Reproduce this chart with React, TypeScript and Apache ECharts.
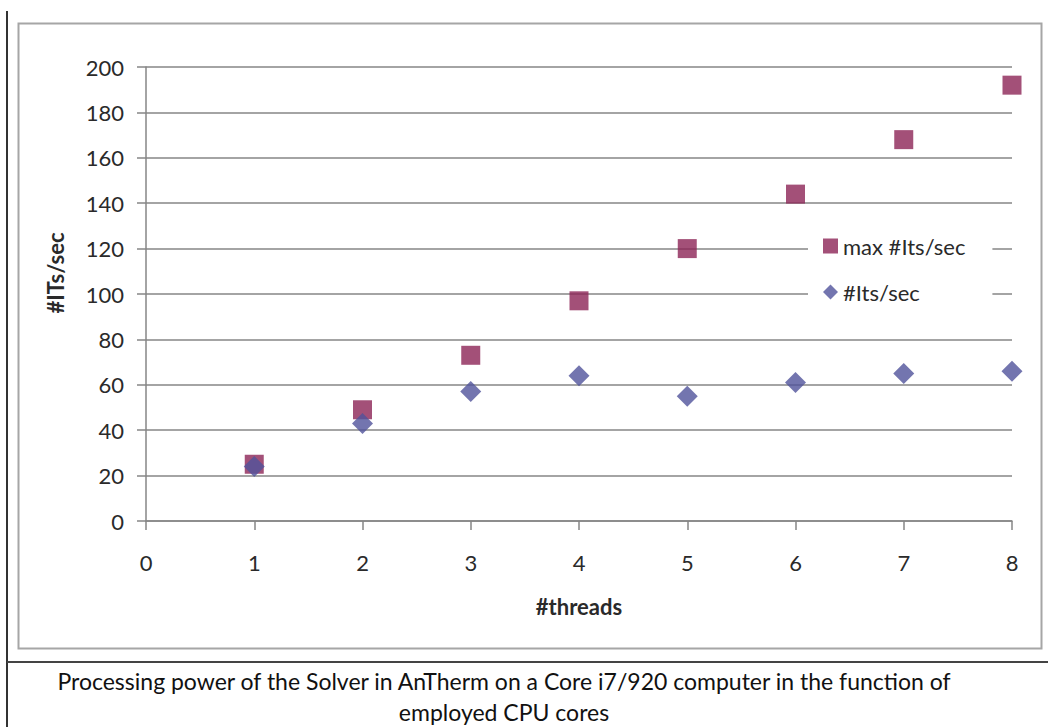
import React, { useEffect, useRef } from "react";
import * as echarts from "echarts";

const threads = [1, 2, 3, 4, 5, 6, 7, 8];
const maxItsPerSec = [25, 49, 73, 97, 120, 144, 168, 192];
const itsPerSec = [24, 43, 57, 64, 55, 61, 65, 66];
const seriesNames = ["max #Its/sec", "#Its/sec"];
const xTitle = "#threads";
const yTitle = "#ITs/sec";
const captionLines = [
  "Processing power of the Solver in AnTherm on a Core i7/920 computer in the function of",
  "employed CPU cores",
];

const FONT = "Lato";
const GRID_COLOR = "#868686";

export default function App() {
  const ref = useRef<HTMLDivElement>(null);
  useEffect(() => {
    const chart = echarts.init(ref.current!, null, { renderer: "svg" });
    chart.setOption({
      animation: false,
      backgroundColor: "#fff",
      textStyle: { fontFamily: FONT },
      grid: { left: 146, top: 67, right: 36, bottom: 206 },
      xAxis: {
        type: "value",
        min: 0,
        max: 8,
        interval: 1,
        name: xTitle,
        nameLocation: "middle",
        nameGap: 74,
        nameTextStyle: { fontFamily: FONT, fontSize: 22, fontWeight: "bold", color: "#2a2a2a", verticalAlign: "top" },
        axisLine: { lineStyle: { color: GRID_COLOR, width: 1.5 } },
        axisTick: { show: true, length: 9, lineStyle: { color: GRID_COLOR, width: 1.5 } },
        axisLabel: { margin: 30, fontFamily: FONT, fontSize: 22, color: "#2a2a2a" },
        splitLine: { show: false },
      },
      yAxis: {
        type: "value",
        min: 0,
        max: 200,
        interval: 20,
        axisLine: { show: true, lineStyle: { color: GRID_COLOR, width: 1.5 } },
        axisTick: { show: true, length: 9, lineStyle: { color: GRID_COLOR, width: 1.5 } },
        axisLabel: { margin: 22, fontFamily: FONT, fontSize: 22, color: "#2a2a2a" },
        splitLine: { show: true, lineStyle: { color: GRID_COLOR, width: 1.5 } },
      },
      legend: {
        orient: "vertical",
        left: 808,
        top: 222,
        backgroundColor: "#fff",
        padding: [12, 27, 12, 15],
        itemGap: 22,
        itemWidth: 15,
        itemHeight: 15,
        textStyle: { fontFamily: FONT, fontSize: 22, lineHeight: 24, color: "#2a2a2a" },
        data: [
          { name: seriesNames[0], icon: "rect" },
          { name: seriesNames[1], icon: "diamond" },
        ],
      },
      series: [
        {
          name: seriesNames[0],
          type: "scatter",
          symbol: "rect",
          symbolSize: 19,
          itemStyle: { color: "#8c2456" },
          data: threads.map((t, i) => [t, maxItsPerSec[i]]),
        },
        {
          name: seriesNames[1],
          type: "scatter",
          symbol: "diamond",
          symbolSize: 21,
          itemStyle: { color: "#50529b" },
          data: threads.map((t, i) => [t, itsPerSec[i]]),
        },
      ],
      graphic: [
        { type: "line", shape: { x1: 7, y1: 11, x2: 7, y2: 727 }, style: { stroke: "#333", lineWidth: 2 } },
        { type: "rect", shape: { x: 18.5, y: 23.5, width: 1023, height: 625 }, style: { fill: "none", stroke: "#a6a6a6", lineWidth: 2 } },
        { type: "line", shape: { x1: 7, y1: 662, x2: 1048, y2: 662 }, style: { stroke: "#444", lineWidth: 2 } },
        {
          type: "text",
          x: 55,
          y: 273,
          rotation: Math.PI / 2,
          style: { text: yTitle, fontFamily: FONT, fontSize: 22, fontWeight: "bold", fill: "#2a2a2a", align: "center", verticalAlign: "middle" },
        },
        {
          type: "text",
          x: 504,
          y: 681,
          style: { text: captionLines[0], fontFamily: FONT, fontSize: 23, fill: "#111", align: "center", verticalAlign: "middle" },
        },
        {
          type: "text",
          x: 504,
          y: 712,
          style: { text: captionLines[1], fontFamily: FONT, fontSize: 23, fill: "#111", align: "center", verticalAlign: "middle" },
        },
      ],
    });
    return () => chart.dispose();
  }, []);
  return <div ref={ref} style={{ position: "fixed", left: 0, top: 0, width: 1048, height: 727 }} />;
}
